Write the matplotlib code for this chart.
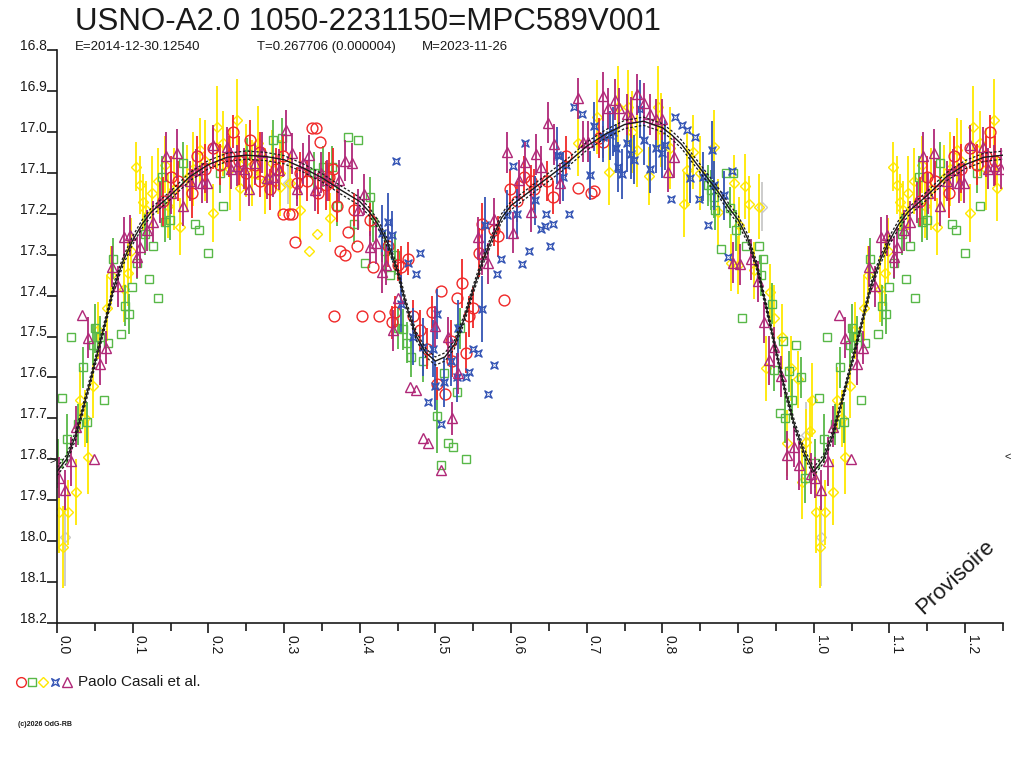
import matplotlib
matplotlib.use('Agg')
import matplotlib.pyplot as plt
import numpy as np
from matplotlib.path import Path
from matplotlib.lines import Line2D

# ---- data (phase in [0,1), magnitude, half error bar) ----
red_phase = [0.150, 0.178, 0.185, 0.206, 0.233, 0.255, 0.268, 0.282, 0.268, 0.250,
             0.337, 0.342, 0.348, 0.299, 0.306, 0.310, 0.315, 0.374, 0.381, 0.385,
             0.392, 0.397, 0.321, 0.317, 0.365, 0.298, 0.370, 0.413, 0.418, 0.366,
             0.403, 0.425, 0.447, 0.470, 0.443, 0.480, 0.496, 0.507, 0.535, 0.529,
             0.520, 0.522, 0.540, 0.550, 0.544, 0.502, 0.513, 0.489, 0.437, 0.464,
             0.557, 0.590, 0.451, 0.454, 0.562, 0.577, 0.583, 0.599, 0.608, 0.617,
             0.626, 0.630, 0.648, 0.655, 0.672, 0.688, 0.705, 0.709, 0.716, 0.722,
             0.140, 0.160, 0.195, 0.215, 0.227, 0.240, 0.262, 0.290, 0.330, 0.345,
             0.355, 0.360]
red_mag = [17.110, 17.150, 17.060, 17.040, 17.000, 17.020, 17.050, 17.140, 17.120, 17.100,
           16.990, 16.990, 17.025, 17.200, 17.200, 17.200, 17.270, 17.290, 17.300, 17.245,
           17.190, 17.280, 17.100, 17.125, 17.090, 17.060, 17.180, 17.215, 17.330, 17.450,
           17.450, 17.450, 17.440, 17.450, 17.465, 17.485, 17.440, 17.390, 17.370, 17.405,
           17.510, 17.560, 17.540, 17.430, 17.450, 17.615, 17.640, 17.530, 17.280, 17.310,
           17.295, 17.410, 17.325, 17.330, 17.225, 17.240, 17.255, 17.140, 17.170, 17.110,
           17.120, 17.140, 17.120, 17.160, 17.060, 17.137, 17.150, 17.145, 17.015, 17.025,
           17.170, 17.120, 17.090, 17.080, 17.060, 17.070, 17.080, 17.090, 17.120, 17.150,
           17.130, 17.110]
red_err = [0.05, 0.06, 0.05, 0.05, 0.04, 0.05, 0.05, 0.05, 0.04, 0.05,
           0.0, 0.0, 0.0, 0.0, 0.0, 0.0, 0.0, 0.0, 0.0, 0.0,
           0.04, 0.0, 0.05, 0.04, 0.05, 0.05, 0.04, 0.04, 0.0, 0.0,
           0.0, 0.0, 0.04, 0.04, 0.04, 0.05, 0.04, 0.0, 0.06, 0.0,
           0.05, 0.04, 0.05, 0.05, 0.05, 0.04, 0.0, 0.05, 0.05, 0.04,
           0.06, 0.0, 0.04, 0.05, 0.05, 0.04, 0.05, 0.05, 0.05, 0.05,
           0.04, 0.05, 0.05, 0.04, 0.05, 0.0, 0.0, 0.0, 0.05, 0.04,
           0.06, 0.05, 0.06, 0.05, 0.05, 0.06, 0.05, 0.05, 0.05, 0.05,
           0.06, 0.06]

green_phase = [0.018, 0.007, 0.013, 0.001, 0.035, 0.040, 0.028, 0.062, 0.050, 0.057,
               0.068, 0.085, 0.090, 0.095, 0.048, 0.074, 0.106, 0.099, 0.122, 0.116,
               0.134, 0.127, 0.139, 0.143, 0.149, 0.183, 0.188, 0.200, 0.220, 0.167,
               0.216, 0.251, 0.286, 0.297, 0.352, 0.364, 0.385, 0.398, 0.339, 0.370,
               0.392, 0.414, 0.418, 0.407, 0.434, 0.447, 0.440, 0.451, 0.457, 0.463,
               0.468, 0.484, 0.512, 0.529, 0.533, 0.502, 0.517, 0.523, 0.540, 0.507,
               0.860, 0.864, 0.868, 0.870, 0.884, 0.893, 0.877, 0.897, 0.927, 0.911,
               0.933, 0.889, 0.905, 0.959, 0.977, 0.948, 0.967, 0.983, 0.971, 0.955,
               0.988, 0.930, 0.945, 0.962]
green_mag = [17.500, 17.650, 17.750, 17.810, 17.575, 17.710, 17.715, 17.655, 17.480, 17.500,
             17.515, 17.495, 17.425, 17.445, 17.520, 17.310, 17.320, 17.380, 17.360, 17.250,
             17.405, 17.280, 17.110, 17.220, 17.215, 17.225, 17.240, 17.295, 17.180, 17.075,
             17.100, 17.055, 17.020, 17.015, 17.085, 17.085, 17.013, 17.020, 17.100, 17.180,
             17.225, 17.160, 17.220, 17.320, 17.290, 17.300, 17.350, 17.480, 17.482, 17.515,
             17.550, 17.560, 17.590, 17.635, 17.480, 17.695, 17.760, 17.770, 17.800, 17.815,
             17.130, 17.142, 17.160, 17.190, 17.100, 17.100, 17.285, 17.240, 17.280, 17.280,
             17.310, 17.185, 17.455, 17.510, 17.520, 17.583, 17.585, 17.600, 17.655, 17.688,
             17.846, 17.350, 17.420, 17.700]
green_err = [0.0, 0.0, 0.06, 0.06, 0.05, 0.05, 0.05, 0.0, 0.06, 0.05,
             0.0, 0.0, 0.05, 0.05, 0.05, 0.05, 0.04, 0.0, 0.0, 0.05,
             0.0, 0.0, 0.05, 0.05, 0.05, 0.0, 0.0, 0.0, 0.0, 0.05,
             0.05, 0.04, 0.05, 0.05, 0.05, 0.05, 0.0, 0.0, 0.05, 0.05,
             0.05, 0.05, 0.05, 0.0, 0.05, 0.05, 0.0, 0.05, 0.05, 0.05,
             0.05, 0.05, 0.0, 0.0, 0.05, 0.09, 0.0, 0.0, 0.0, 0.0,
             0.05, 0.05, 0.05, 0.05, 0.0, 0.0, 0.0, 0.05, 0.0, 0.0,
             0.0, 0.05, 0.0, 0.0, 0.0, 0.05, 0.05, 0.05, 0.05, 0.0,
             0.06, 0.05, 0.05, 0.06]

yellow_phase = [0.008, 0.003, 0.015, 0.025, 0.041, 0.030, 0.048, 0.037, 0.054, 0.066,
                0.104, 0.110, 0.114, 0.118, 0.072, 0.088, 0.094, 0.098, 0.143, 0.163,
                0.206, 0.211, 0.238, 0.242, 0.189, 0.172, 0.266, 0.295, 0.308, 0.321,
                0.344, 0.333, 0.361, 0.295, 0.284, 0.220, 0.147, 0.125, 0.133, 0.155,
                0.180, 0.195, 0.228, 0.250, 0.258, 0.275,
                0.729, 0.782, 0.767, 0.829, 0.868, 0.894, 0.909, 0.915, 0.927, 0.901,
                0.794, 0.755, 0.713, 0.841, 0.873, 0.689, 0.741, 0.798, 0.833, 0.890,
                0.900, 0.921, 0.942, 0.947, 0.958, 0.937, 0.970, 0.979, 0.998, 0.995,
                0.965, 0.990, 0.985, 0.760, 0.810, 0.850]
yellow_mag = [18.015, 17.930, 17.930, 17.880, 17.795, 17.655, 17.620, 17.700, 17.485, 17.430,
              17.085, 17.130, 17.172, 17.190, 17.350, 17.385, 17.345, 17.290, 17.080, 17.232,
              17.198, 16.988, 16.970, 17.137, 17.045, 17.113, 17.027, 17.135, 17.125, 17.190,
              17.250, 17.290, 17.210, 17.100, 17.075, 17.028, 17.180, 17.150, 17.120, 17.140,
              17.090, 17.070, 17.090, 17.070, 17.100, 17.120,
              17.098, 17.108, 17.045, 17.177, 17.037, 17.126, 17.133, 17.177, 17.183, 17.228,
              16.940, 16.940, 16.964, 17.050, 17.196, 17.027, 16.940, 16.996, 17.093, 17.320,
              17.325, 17.338, 17.392, 17.455, 17.500, 17.578, 17.578, 17.605, 17.655, 17.730,
              17.760, 17.757, 17.855, 17.000, 17.040, 17.100]
yellow_err = [0.10, 0.10, 0.08, 0.08, 0.09, 0.08, 0.08, 0.07, 0.07, 0.08,
              0.06, 0.07, 0.07, 0.07, 0.07, 0.08, 0.08, 0.08, 0.07, 0.07,
              0.07, 0.10, 0.10, 0.08, 0.08, 0.08, 0.09, 0.07, 0.07, 0.08,
              0.0, 0.0, 0.06, 0.08, 0.08, 0.08, 0.08, 0.09, 0.08, 0.10,
              0.09, 0.10, 0.10, 0.09, 0.08, 0.08,
              0.08, 0.07, 0.09, 0.08, 0.09, 0.07, 0.08, 0.07, 0.08, 0.07,
              0.10, 0.09, 0.09, 0.09, 0.08, 0.08, 0.10, 0.09, 0.09, 0.07,
              0.07, 0.07, 0.07, 0.08, 0.08, 0.08, 0.08, 0.07, 0.09, 0.08,
              0.08, 0.08, 0.09, 0.10, 0.10, 0.09]

blue_phase = [0.448, 0.480, 0.475, 0.464, 0.438, 0.443, 0.430, 0.619, 0.603, 0.663,
              0.672, 0.676, 0.646, 0.656, 0.640, 0.651, 0.624, 0.614, 0.587, 0.582,
              0.565, 0.595, 0.608, 0.632, 0.669, 0.502, 0.497, 0.484, 0.512, 0.529,
              0.540, 0.545, 0.550, 0.556, 0.577, 0.570, 0.507, 0.490, 0.561, 0.455,
              0.470, 0.683, 0.694, 0.661, 0.704, 0.741, 0.747, 0.753, 0.758, 0.763,
              0.771, 0.775, 0.784, 0.791, 0.799, 0.804, 0.817, 0.826, 0.832, 0.843,
              0.811, 0.837, 0.854, 0.865, 0.860, 0.868, 0.881, 0.892, 0.886, 0.731,
              0.735, 0.721, 0.709, 0.738, 0.848, 0.645, 0.520, 0.530, 0.500]
blue_mag = [17.070, 17.295, 17.347, 17.320, 17.220, 17.253, 17.248, 17.028, 17.083, 17.058,
            17.080, 17.200, 17.200, 17.225, 17.238, 17.280, 17.292, 17.323, 17.311, 17.348,
            17.228, 17.203, 17.200, 17.167, 17.110, 17.445, 17.530, 17.526, 17.612, 17.600,
            17.600, 17.587, 17.530, 17.540, 17.570, 17.640, 17.713, 17.660, 17.433, 17.420,
            17.500, 16.940, 16.957, 17.057, 17.106, 17.086, 17.103, 17.028, 17.055, 17.068,
            16.944, 17.020, 17.090, 17.040, 17.052, 17.032, 16.964, 16.983, 16.995, 17.013,
            17.165, 17.113, 17.110, 17.044, 17.228, 17.130, 17.155, 17.096, 17.306, 17.008,
            17.000, 17.013, 16.986, 17.040, 17.165, 17.230, 17.560, 17.480, 17.620]
blue_err = [0.0, 0.0, 0.0, 0.0, 0.07, 0.06, 0.07, 0.0, 0.0, 0.0,
            0.0, 0.0, 0.0, 0.0, 0.0, 0.0, 0.0, 0.0, 0.0, 0.0,
            0.07, 0.06, 0.06, 0.06, 0.06, 0.06, 0.07, 0.07, 0.06, 0.06,
            0.0, 0.0, 0.0, 0.0, 0.0, 0.0, 0.0, 0.0, 0.08, 0.07,
            0.07, 0.0, 0.0, 0.07, 0.06, 0.06, 0.06, 0.07, 0.06, 0.06,
            0.07, 0.06, 0.06, 0.06, 0.06, 0.06, 0.0, 0.0, 0.0, 0.0,
            0.0, 0.06, 0.06, 0.07, 0.0, 0.06, 0.06, 0.0, 0.0, 0.06,
            0.06, 0.06, 0.06, 0.06, 0.0, 0.0, 0.06, 0.07, 0.06]

purple_phase = [0.033, 0.041, 0.065, 0.057, 0.002, 0.010, 0.019, 0.025, 0.049, 0.089,
                0.073, 0.081, 0.110, 0.106, 0.119, 0.097, 0.127, 0.136, 0.144, 0.159,
                0.151, 0.167, 0.176, 0.184, 0.192, 0.198, 0.206, 0.224, 0.230, 0.238,
                0.247, 0.254, 0.262, 0.271, 0.278, 0.286, 0.294, 0.302, 0.311, 0.317,
                0.325, 0.333, 0.341, 0.349, 0.357, 0.373, 0.381, 0.398, 0.390, 0.405,
                0.413, 0.421, 0.430, 0.451, 0.556, 0.561, 0.569, 0.578, 0.594, 0.611,
                0.618, 0.633, 0.640, 0.626, 0.603, 0.649, 0.657, 0.665, 0.499, 0.516,
                0.530, 0.467, 0.475, 0.483, 0.490, 0.507, 0.522, 0.435, 0.444, 0.689,
                0.695, 0.702, 0.721, 0.728, 0.737, 0.742, 0.753, 0.758, 0.767, 0.775,
                0.783, 0.791, 0.799, 0.808, 0.815, 0.893, 0.902, 0.917, 0.926, 0.934,
                0.948, 0.941, 0.957, 0.964, 0.974, 0.981, 0.996]
purple_mag = [17.448, 17.503, 17.527, 17.568, 17.845, 17.875, 17.805, 17.720, 17.800, 17.257,
              17.330, 17.377, 17.282, 17.306, 17.240, 17.253, 17.220, 17.172, 17.060, 17.052,
              17.150, 17.180, 17.120, 17.093, 17.125, 17.125, 17.033, 17.037, 17.090, 17.083,
              17.090, 17.140, 17.077, 17.050, 17.113, 17.110, 17.093, 16.996, 17.052, 17.140,
              17.077, 17.057, 17.143, 17.100, 17.118, 17.118, 17.070, 17.190, 17.077, 17.152,
              17.282, 17.272, 17.343, 17.405, 17.258, 17.299, 17.321, 17.212, 17.050, 17.118,
              17.074, 17.055, 17.085, 17.195, 17.247, 16.978, 17.030, 17.126, 17.475, 17.502,
              17.590, 17.624, 17.630, 17.749, 17.760, 17.827, 17.700, 17.325, 17.485, 16.918,
              17.024, 17.024, 16.913, 16.942, 16.922, 16.942, 16.957, 16.964, 16.908, 16.930,
              16.957, 16.969, 16.969, 17.098, 17.062, 17.320, 17.323, 17.311, 17.365, 17.465,
              17.526, 17.558, 17.597, 17.790, 17.770, 17.815, 17.835]
purple_err = [0.0, 0.05, 0.04, 0.05, 0.05, 0.05, 0.06, 0.05, 0.0, 0.05,
              0.05, 0.05, 0.05, 0.05, 0.05, 0.05, 0.05, 0.05, 0.06, 0.06,
              0.05, 0.05, 0.05, 0.05, 0.05, 0.05, 0.05, 0.05, 0.05, 0.05,
              0.05, 0.04, 0.05, 0.05, 0.05, 0.05, 0.05, 0.05, 0.05, 0.04,
              0.05, 0.05, 0.05, 0.05, 0.05, 0.05, 0.05, 0.05, 0.05, 0.05,
              0.04, 0.05, 0.05, 0.0, 0.05, 0.05, 0.05, 0.05, 0.05, 0.05,
              0.05, 0.05, 0.05, 0.05, 0.05, 0.05, 0.05, 0.05, 0.05, 0.05,
              0.05, 0.0, 0.0, 0.0, 0.0, 0.0, 0.04, 0.05, 0.05, 0.05,
              0.05, 0.05, 0.06, 0.05, 0.05, 0.05, 0.05, 0.05, 0.05, 0.05,
              0.05, 0.05, 0.05, 0.05, 0.05, 0.05, 0.05, 0.05, 0.05, 0.05,
              0.05, 0.06, 0.05, 0.06, 0.05, 0.06, 0.05]

gray_phase = [0.305, 0.932, 0.990, 0.010]
gray_mag = [17.126, 17.183, 17.740, 17.990]
gray_err = [0.05, 0.06, 0.08, 0.12]

# fitted light curve
model_phase = [0.0, 0.0125, 0.025, 0.0375, 0.05, 0.0625, 0.075, 0.0875, 0.1, 0.1125,
               0.125, 0.15, 0.175, 0.2, 0.225, 0.25, 0.275, 0.3, 0.325, 0.35,
               0.375, 0.4, 0.4125, 0.425, 0.4375, 0.45, 0.4625, 0.475, 0.4875, 0.5,
               0.5125, 0.525, 0.5375, 0.55, 0.5625, 0.575, 0.5875, 0.6, 0.625, 0.65,
               0.675, 0.7, 0.725, 0.75, 0.775, 0.8, 0.8125, 0.825, 0.8375, 0.85,
               0.8625, 0.875, 0.8875, 0.9, 0.9125, 0.925, 0.9375, 0.95, 0.9625, 0.975,
               0.9875]
model_mag = [17.830, 17.800, 17.740, 17.655, 17.565, 17.475, 17.380, 17.315, 17.265, 17.225,
             17.195, 17.155, 17.110, 17.080, 17.062, 17.057, 17.060, 17.068, 17.088, 17.112,
             17.142, 17.170, 17.195, 17.228, 17.275, 17.340, 17.430, 17.500, 17.540, 17.560,
             17.550, 17.520, 17.460, 17.385, 17.315, 17.260, 17.210, 17.180, 17.145, 17.110,
             17.075, 17.035, 17.005, 16.982, 16.974, 16.990, 17.008, 17.030, 17.060, 17.090,
             17.120, 17.150, 17.185, 17.215, 17.260, 17.330, 17.430, 17.535, 17.635, 17.720,
             17.785]
model_sigma = 0.010

x_ticks = [0.0, 0.1, 0.2, 0.3, 0.4, 0.5, 0.6, 0.7, 0.8, 0.9, 1.0, 1.1, 1.2]
y_ticks = [16.8, 16.9, 17.0, 17.1, 17.2, 17.3, 17.4, 17.5, 17.6, 17.7, 17.8, 17.9, 18.0, 18.1, 18.2]

plt.rcParams['font.family'] = ['Liberation Sans', 'DejaVu Sans']


def wrap(ph, mag, err):
    # phases below 0.25 are shown again after 1.0
    ph = np.asarray(ph)
    mag = np.asarray(mag)
    err = np.asarray(err)
    m = ph < 0.25
    return np.r_[ph, ph[m] + 1], np.r_[mag, mag[m]], np.r_[err, err[m]]


star = Path([(-1, -1), (0, -0.45), (1, -1), (0.45, 0), (1, 1), (0, 0.45),
             (-1, 1), (-0.45, 0), (-1, -1)],
            [Path.MOVETO] + [Path.LINETO] * 7 + [Path.CLOSEPOLY])

fig = plt.figure(figsize=(10.24, 7.68), dpi=100)
ax = fig.add_axes([57 / 1024, 1 - 623 / 768, 946 / 1024, 573 / 768])

series = [
    (gray_phase, gray_mag, gray_err, '#c8c8c8', 'D', 5.0),
    (yellow_phase, yellow_mag, yellow_err, '#ffe800', 'D', 5.0),
    (green_phase, green_mag, green_err, '#58b848', 's', 5.2),
    (red_phase, red_mag, red_err, '#f02828', 'o', 7.8),
    (blue_phase, blue_mag, blue_err, '#3454b4', star, 5.2),
    (purple_phase, purple_mag, purple_err, '#b02878', '^', 6.5),
]
for ph, mg, er, col, mk, ms in series:
    p, m, e = wrap(ph, mg, er)
    ax.errorbar(p, m, yerr=e, fmt='none', ecolor=col, elinewidth=1.3, capsize=0)
    ax.plot(p, m, ls='none', marker=mk, ms=ms, mfc='none', mec=col, mew=1.0)

mp, mm, _ = wrap(model_phase, model_mag, np.zeros(len(model_phase)))
order = np.argsort(mp)
mp = np.r_[mp[order], 1.25]
mm = np.r_[mm[order], np.interp(0.25, model_phase, model_mag)]
ax.plot(mp, mm, color='#1a1a1a', lw=1.0, zorder=5)
ax.plot(mp, mm - model_sigma, color='#1a1a1a', lw=0.9, ls=(0, (2, 1.5)), zorder=5)
ax.plot(mp, mm + model_sigma, color='#1a1a1a', lw=0.9, ls=(0, (2, 1.5)), zorder=5)

ax.set_xlim(0, 1.25)
ax.set_ylim(18.2, 16.8)
for s in ['top', 'right']:
    ax.spines[s].set_visible(False)
for s in ['left', 'bottom']:
    ax.spines[s].set_linewidth(1.2)
    ax.spines[s].set_color('#1a1a1a')

ax.set_xticks(x_ticks, ['%.1f' % v for v in x_ticks], rotation=-90, ha='left', va='top')
ax.set_xticks(np.arange(0.05, 1.26, 0.1), minor=True)
ax.set_yticks(y_ticks, ['%.1f' % v for v in y_ticks], va='baseline')
ax.tick_params(axis='x', which='major', direction='out', length=7.5, width=1.2,
               pad=1, labelsize=10, colors='#1a1a1a')
ax.tick_params(axis='x', which='minor', direction='out', length=6, width=1.2, colors='#1a1a1a')
ax.tick_params(axis='y', direction='out', length=7.5, width=1.2, pad=0,
               labelsize=10, colors='#1a1a1a')

ax.text(1.252, 17.795, '<', ha='left', va='center', fontsize=8, color='#1a1a1a', clip_on=False)
ax.text(-0.001, 17.805, '>', ha='right', va='center', fontsize=8, color='#1a1a1a', clip_on=False)

fig.text(75 / 1024, 1 - 30 / 768, 'USNO-A2.0 1050-2231150=MPC589V001', fontsize=22.5,
         va='baseline', color='#1a1a1a')
fig.text(75 / 1024, 1 - 50 / 768, 'E=2014-12-30.12540', fontsize=9.5, va='baseline', color='#1a1a1a')
fig.text(257 / 1024, 1 - 50 / 768, 'T=0.267706 (0.000004)', fontsize=9.5, va='baseline', color='#1a1a1a')
fig.text(422 / 1024, 1 - 50 / 768, 'M=2023-11-26', fontsize=9.5, va='baseline', color='#1a1a1a')

fig.text(955 / 1024, 1 - 577 / 768, 'Provisoire', fontsize=16, rotation=43,
         ha='center', va='center', color='#1a1a1a')

# legend row under the plot
ly = 1 - 682 / 768
for x, col, mk, ms in [(21, '#f02828', 'o', 7), (32, '#58b848', 's', 5.5),
                       (43, '#ffe800', 'D', 5), (55, '#3454b4', star, 5.5),
                       (67, '#b02878', '^', 6.5)]:
    fig.add_artist(Line2D([x / 1024], [ly], transform=fig.transFigure, marker=mk, ms=ms,
                          mfc='none', mec=col, mew=1.0, ls='none'))
fig.text(78 / 1024, ly, 'Paolo Casali et al.', fontsize=11, va='center', color='#1a1a1a')
fig.text(18 / 1024, 1 - 725 / 768, '(c)2026 OdG-RB', fontsize=5, weight='bold',
         va='center', color='#1a1a1a')

fig.savefig('out.png', dpi=100)
